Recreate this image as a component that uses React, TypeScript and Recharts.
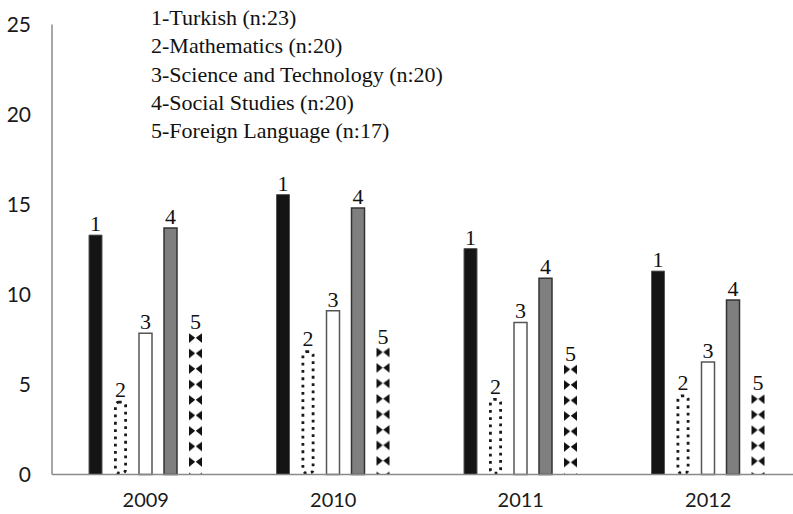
import { Bar, BarChart, LabelList, XAxis, YAxis } from 'recharts'

const YEARS = ['2009', '2010', '2011', '2012']
const TURKISH = [13.3, 15.55, 12.55, 11.3]
const MATHEMATICS = [4.1, 6.9, 4.25, 4.45]
const SCIENCE = [7.85, 9.1, 8.45, 6.25]
const SOCIAL = [13.7, 14.8, 10.9, 9.7]
const FOREIGN = [7.85, 7.05, 6.1, 4.45]
const Y_TICKS = [0, 5, 10, 15, 20, 25]
const LEGEND_LINES = [
  '1-Turkish (n:23)',
  '2-Mathematics (n:20)',
  '3-Science and Technology (n:20)',
  '4-Social Studies (n:20)',
  '5-Foreign Language (n:17)',
]

const data = YEARS.map((year, i) => ({
  year,
  s1: TURKISH[i],
  s2: MATHEMATICS[i],
  s3: SCIENCE[i],
  s4: SOCIAL[i],
  s5: FOREIGN[i],
}))

const AXIS_STROKE = '#8a8a8a'
const SERIF = '"Liberation Serif", "Times New Roman", serif'
const SANS = 'Lato, "Open Sans", sans-serif'

const LABEL_STYLE = { fontFamily: SERIF, fontSize: 22, fill: '#111' }

/** dotted rounded outline (Mathematics) */
function DottedBar(props: any) {
  const { x, y, width, height } = props
  if (!height || height <= 0) return null
  const sw = 2.8
  return (
    <rect
      x={x + sw / 2}
      y={y + sw / 2}
      width={width - sw}
      height={height - sw}
      rx={3.5}
      fill="#fff"
      stroke="#1a1a1a"
      strokeWidth={sw}
      strokeDasharray="2.8 4.5"
    />
  )
}

/** black bow-tie pattern (Foreign Language) */
function BowtieBar(props: any) {
  const { x, y, width, height, index } = props
  if (!height || height <= 0) return null
  const id = `bowtie-${index}`
  const w = width
  const h = 15.5
  const mid = h * 0.3
  const bot = h * 0.62
  return (
    <g>
      <defs>
        <pattern id={id} patternUnits="userSpaceOnUse" x={x} y={y} width={w} height={h}>
          <path d={`M0,0 L${w / 2 - 0.3},${mid} L0,${bot} Z`} fill="#111" />
          <path d={`M${w},0 L${w / 2 + 0.3},${mid} L${w},${bot} Z`} fill="#111" />
        </pattern>
      </defs>
      <rect x={x} y={y} width={w} height={height} fill={`url(#${id})`} />
    </g>
  )
}

export default function App() {
  return (
    <div
      style={{
        position: 'absolute',
        left: 0,
        top: 0,
        width: 793,
        height: 514,
        overflow: 'hidden',
        background: '#fff',
      }}
    >
      <BarChart
        width={802}
        height={514}
        data={data}
        margin={{ top: 24.5, right: 0, left: 0, bottom: 0 }}
        barSize={13}
        barGap={12}
      >
        <XAxis
          dataKey="year"
          height={39.5}
          axisLine={{ stroke: AXIS_STROKE, strokeWidth: 1.5 }}
          tickLine={false}
          tickSize={0}
          tickMargin={18.5}
          tick={{ fontFamily: SANS, fontSize: 20, fill: '#1a1a1a' }}
        />
        <YAxis
          width={52}
          domain={[0, 25]}
          ticks={Y_TICKS}
          interval={0}
          axisLine={{ stroke: AXIS_STROKE, strokeWidth: 1.5 }}
          tickLine={false}
          tickSize={0}
          tickMargin={21}
          tick={{ fontFamily: SANS, fontSize: 21, fill: '#1a1a1a' }}
        />
        <Bar dataKey="s1" fill="#141414" stroke="#555" strokeWidth={1} isAnimationActive={false}>
          <LabelList position="top" offset={4} formatter={() => '1'} style={LABEL_STYLE} />
        </Bar>
        <Bar dataKey="s2" shape={DottedBar} isAnimationActive={false}>
          <LabelList position="top" offset={4} formatter={() => '2'} style={LABEL_STYLE} />
        </Bar>
        <Bar dataKey="s3" fill="#fff" stroke="#555" strokeWidth={1.5} isAnimationActive={false}>
          <LabelList position="top" offset={4} formatter={() => '3'} style={LABEL_STYLE} />
        </Bar>
        <Bar dataKey="s4" fill="#7f7f7f" stroke="#333" strokeWidth={1.5} isAnimationActive={false}>
          <LabelList position="top" offset={4} formatter={() => '4'} style={LABEL_STYLE} />
        </Bar>
        <Bar dataKey="s5" shape={BowtieBar} isAnimationActive={false}>
          <LabelList position="top" offset={4} formatter={() => '5'} style={LABEL_STYLE} />
        </Bar>
      </BarChart>
      <div
        style={{
          position: 'absolute',
          left: 151,
          top: 4,
          fontFamily: SERIF,
          fontSize: 22,
          lineHeight: '28.3px',
          color: '#111',
          whiteSpace: 'nowrap',
        }}
      >
        {LEGEND_LINES.map((line) => (
          <div key={line}>{line}</div>
        ))}
      </div>
    </div>
  )
}
